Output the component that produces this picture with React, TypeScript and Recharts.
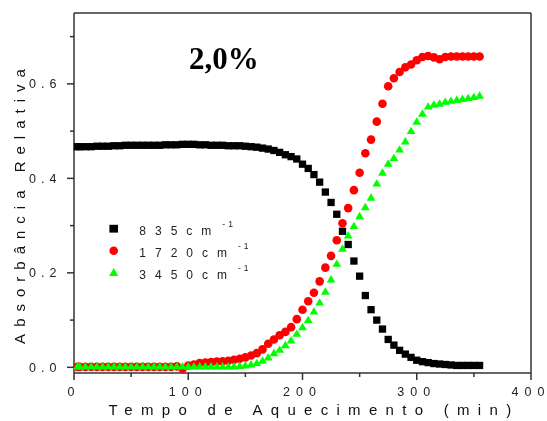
import { ScatterChart, Scatter, XAxis, YAxis, Legend } from 'recharts';

const time = [
  3, 5, 10, 15, 20, 25, 30, 35, 40, 45, 50, 55, 60, 65, 70, 75, 80, 85, 90, 95,
  100, 105, 110, 115, 120, 125, 130, 135, 140, 145, 150, 155, 160, 165, 170, 175, 180, 185, 190, 195,
  200, 205, 210, 215, 220, 225, 230, 235, 240, 245, 250, 255, 260, 265, 270, 275, 280, 285, 290, 295,
  300, 305, 310, 315, 320, 325, 330, 335, 340, 345, 350, 355,
];

const band835 = [
  0.467, 0.467, 0.467, 0.467, 0.468, 0.468, 0.468, 0.469, 0.469, 0.47,
  0.47, 0.47, 0.47, 0.47, 0.47, 0.47, 0.471, 0.471, 0.471, 0.472,
  0.472, 0.472, 0.471, 0.471, 0.47, 0.47, 0.47, 0.469, 0.469, 0.469,
  0.468, 0.467, 0.466, 0.464, 0.462, 0.459, 0.455, 0.45, 0.446, 0.441,
  0.43, 0.421, 0.408, 0.392, 0.371, 0.349, 0.324, 0.288, 0.26, 0.225,
  0.193, 0.152, 0.122, 0.1, 0.081, 0.059, 0.047, 0.036, 0.028, 0.021,
  0.015, 0.012, 0.01, 0.008, 0.007, 0.006, 0.005, 0.004, 0.004, 0.004,
  0.004, 0.004,
];

const band1720 = [
  0.001, 0.001, 0.001, 0.001, 0.001, 0.001, 0.001, 0.001, 0.001, 0.001,
  0.001, 0.001, 0.001, 0.001, 0.001, 0.001, 0.001, 0.001, 0.002, -0.003,
  0.004, 0.006, 0.009, 0.01, 0.011, 0.012, 0.013, 0.014, 0.016, 0.018,
  0.021, 0.025, 0.03, 0.038, 0.05, 0.059, 0.068, 0.075, 0.085, 0.102,
  0.122, 0.14, 0.158, 0.182, 0.211, 0.236, 0.269, 0.305, 0.337, 0.375,
  0.412, 0.453, 0.482, 0.52, 0.558, 0.595, 0.612, 0.625, 0.635, 0.641,
  0.65, 0.657, 0.659, 0.656, 0.652, 0.657, 0.658, 0.658, 0.658, 0.658,
  0.658, 0.658,
];

const band3450 = [
  0.002, 0.002, 0.002, 0.002, 0.002, 0.002, 0.002, 0.002, 0.002, 0.002,
  0.002, 0.002, 0.002, 0.002, 0.002, 0.002, 0.002, 0.002, 0.002, 0.002,
  0.002, 0.002, 0.002, 0.002, 0.002, 0.002, 0.002, 0.002, 0.002, 0.003,
  0.004, 0.006, 0.009, 0.014, 0.021, 0.03, 0.037, 0.047, 0.057, 0.071,
  0.085, 0.1, 0.118, 0.137, 0.16, 0.186, 0.219, 0.251, 0.279, 0.299,
  0.32, 0.339, 0.359, 0.389, 0.412, 0.431, 0.443, 0.461, 0.478, 0.5,
  0.52, 0.537, 0.552, 0.556, 0.558, 0.562, 0.564, 0.566, 0.568, 0.57,
  0.572, 0.575,
];

const xTicks = [0, 50, 100, 150, 200, 250, 300, 350, 400];
const yTicks = [0, 0.1, 0.2, 0.3, 0.4, 0.5, 0.6, 0.7];

const legendItems = [
  { label: '835cm', shape: 'square' },
  { label: '1720cm', shape: 'circle' },
  { label: '3450cm', shape: 'triangle' },
];

const toPoints = (vals: number[]) => time.map((t, i) => ({ t, v: vals[i] }));

const FONT = '"Liberation Sans", Arial, sans-serif';
const AXIS = '#333';

function Square(props: any) {
  const { cx, cy } = props;
  return <rect x={cx - 3.65} y={cy - 3.65} width={7.3} height={7.3} fill="#000" />;
}

function Dot(props: any) {
  const { cx, cy } = props;
  return <circle cx={cx} cy={cy} r={4.3} fill="#ff0000" />;
}

function Tri(props: any) {
  const { cx, cy } = props;
  return (
    <polygon
      points={`${cx},${cy - 4.4} ${cx + 4.4},${cy + 3} ${cx - 4.4},${cy + 3}`}
      fill="#00ff00"
    />
  );
}

// spaced-out digits, but no trailing gap after the last glyph
function Spaced({ s, gap }: { s: string; gap: number }) {
  return (
    <>
      <tspan letterSpacing={gap}>{s.slice(0, -1)}</tspan>
      <tspan>{s.slice(-1)}</tspan>
    </>
  );
}

function YTick(props: any) {
  const { x, y, payload } = props;
  const v = payload.value;
  const major = Math.round(v * 10) % 2 === 0;
  return (
    <g>
      <line x1={x - (major ? 7 : 4)} x2={x} y1={y} y2={y} stroke={AXIS} strokeWidth={1.5} />
      {major && (
        <text x={x - 17.5} y={y + 4.5} textAnchor="end" fontFamily={FONT} fontSize={12.5} fill="#222">
          <Spaced s={v.toFixed(1)} gap={5} />
        </text>
      )}
    </g>
  );
}

function XTick(props: any) {
  const { x, y, payload } = props;
  const v = payload.value;
  const major = v % 100 === 0;
  return (
    <g>
      <line x1={x} x2={x} y1={y} y2={y + (major ? 7 : 4)} stroke={AXIS} strokeWidth={1.5} />
      {major && (
        <text x={x - 3} y={y + 23} textAnchor="middle" fontFamily={FONT} fontSize={12.5} fill="#222">
          <Spaced s={String(v)} gap={6} />
        </text>
      )}
    </g>
  );
}

function marker(shape: string, cx: number, cy: number) {
  if (shape === 'square') return <rect x={cx - 4.3} y={cy - 3.9} width={8.6} height={7.8} fill="#000" />;
  if (shape === 'circle') return <circle cx={cx} cy={cy} r={4.3} fill="#ff0000" />;
  return <polygon points={`${cx},${cy - 4.6} ${cx + 4.6},${cy + 3.2} ${cx - 4.6},${cy + 3.2}`} fill="#00ff00" />;
}

function Overlay() {
  return (
    <svg width={539} height={413} style={{ position: 'absolute', left: 0, top: 0 }}>
      <text x={181} y={61} fontFamily='"Liberation Serif", "Times New Roman", serif'
        fontWeight="bold" fontSize={31} fill="#000">
        2,0%
      </text>
      {legendItems.map((item, i) => {
        const cy = 220.7 + i * 22;
        return (
          <g key={item.label}>
            {marker(item.shape, 105.7, cy)}
            <text x={131.3} y={cy + 5.8} fontFamily={FONT} fontSize={12} letterSpacing={9} fill="#222">
              {item.label}
              <tspan dx={2} dy={-8} fontSize={8.5} letterSpacing={3}>-1</tspan>
            </text>
          </g>
        );
      })}
    </svg>
  );
}

export default function App() {
  // fixed so the 413px chart does not push a scrollbar into the 421px window
  return (
    <div style={{ position: 'fixed', left: 8, top: 8, width: 539, height: 413 }}>
      <ScatterChart width={539} height={413} margin={{ top: 4, right: 15, left: 0, bottom: 0 }}>
        <XAxis
          type="number"
          dataKey="t"
          domain={[0, 400]}
          ticks={xTicks}
          height={48}
          tick={<XTick />}
          tickLine={false}
          tickSize={0}
          tickMargin={0}
          axisLine={{ stroke: AXIS, strokeWidth: 1.5 }}
          label={{
            content: (p: any) => {
              const vb = p.viewBox;
              return (
                <text x={vb.x + vb.width / 2 + 11.5} y={vb.y + 42} textAnchor="middle"
                  fontFamily={FONT} fontSize={15} letterSpacing={8.3} fill="#111">
                  Tempo de Aquecimento (min)
                </text>
              );
            },
          }}
        />
        <XAxis
          xAxisId="top"
          orientation="top"
          type="number"
          domain={[0, 400]}
          ticks={xTicks}
          height={1}
          tick={false}
          tickSize={2}
          tickLine={{ stroke: AXIS }}
          axisLine={{ stroke: AXIS, strokeWidth: 1.5 }}
        />
        <YAxis
          type="number"
          dataKey="v"
          domain={[-0.012, 0.75]}
          ticks={yTicks}
          width={66}
          tick={<YTick />}
          tickLine={false}
          tickSize={0}
          tickMargin={0}
          axisLine={{ stroke: AXIS, strokeWidth: 1.5 }}
          label={{
            content: (p: any) => {
              const vb = p.viewBox;
              const cy = 195;
              return (
                <text x={vb.x + 17} y={cy} transform={`rotate(-90 ${vb.x + 17} ${cy})`}
                  textAnchor="middle" fontFamily={FONT} fontSize={15} letterSpacing={7} fill="#111">
                  Absorbância Relativa
                </text>
              );
            },
          }}
        />
        <YAxis
          yAxisId="right"
          orientation="right"
          type="number"
          domain={[-0.012, 0.75]}
          ticks={yTicks}
          width={1}
          tick={false}
          tickSize={2}
          tickLine={{ stroke: AXIS }}
          axisLine={{ stroke: AXIS, strokeWidth: 1.5 }}
        />
        <Scatter data={toPoints(band1720)} shape={<Dot />} isAnimationActive={false} />
        <Scatter data={toPoints(band3450)} shape={<Tri />} isAnimationActive={false} />
        <Scatter data={toPoints(band835)} shape={<Square />} isAnimationActive={false} />
        <Legend
          verticalAlign="middle"
          layout="horizontal"
          content={() => <Overlay />}
          wrapperStyle={{ left: 0, top: 0, width: 539, height: 413, pointerEvents: 'none' }}
        />
      </ScatterChart>
    </div>
  );
}
